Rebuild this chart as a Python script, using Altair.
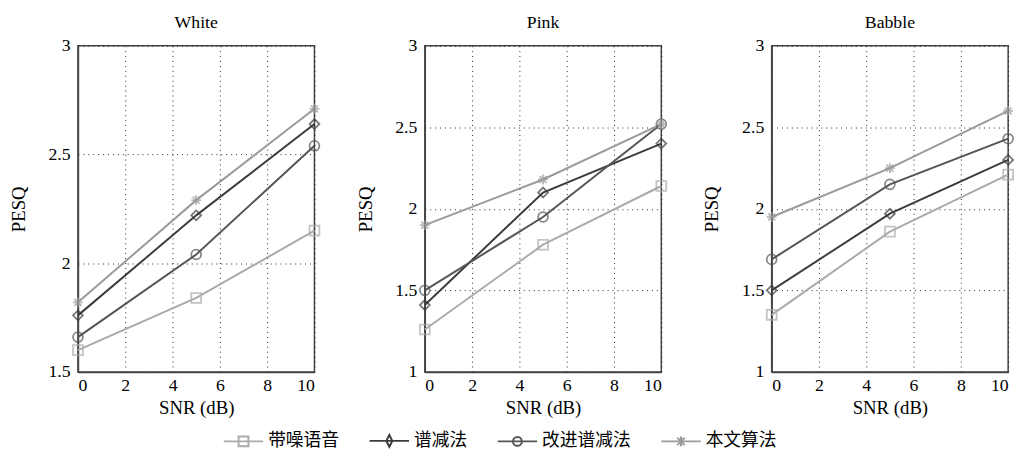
import altair as alt
import pandas as pd

snr = [0, 5, 10]
methods = ["带噪语音", "谱减法", "改进谱减法", "本文算法"]
noises = ["White", "Pink", "Babble"]

white_noisy = [1.60, 1.84, 2.15]
white_ss = [1.76, 2.22, 2.64]
white_iss = [1.66, 2.04, 2.54]
white_ours = [1.82, 2.29, 2.71]

pink_noisy = [1.26, 1.78, 2.14]
pink_ss = [1.41, 2.10, 2.40]
pink_iss = [1.50, 1.95, 2.52]
pink_ours = [1.90, 2.18, 2.52]

babble_noisy = [1.35, 1.86, 2.21]
babble_ss = [1.50, 1.97, 2.30]
babble_iss = [1.69, 2.15, 2.43]
babble_ours = [1.95, 2.25, 2.60]

y_min = {"White": 1.5, "Pink": 1.0, "Babble": 1.0}

series = {
    "White": [white_noisy, white_ss, white_iss, white_ours],
    "Pink": [pink_noisy, pink_ss, pink_iss, pink_ours],
    "Babble": [babble_noisy, babble_ss, babble_iss, babble_ours],
}

rows = []
for noise in noises:
    for m, vals in zip(methods, series[noise]):
        for s, v in zip(snr, vals):
            rows.append({"noise": noise, "method": m, "snr": s, "pesq": v})
df = pd.DataFrame(rows)

colors = ["#aaaaaa", "#3c3c3c", "#555555", "#9a9a9a"]
star = "M-1,0H1M0,-1V1M-0.7,-0.7L0.7,0.7M-0.7,0.7L0.7,-0.7"
shapes = ["square", "diamond", "circle", star]

# legend glyphs: line with marker (drawn wider than the nominal symbol box)
leg_sq = "M-2,0H2M-0.5,-0.5H0.5V0.5H-0.5Z"
leg_di = "M-2,0H2M0,-0.6L0.3,0L0,0.6L-0.3,0Z"
leg_ci = "M-2,0H2M0.45,0A0.45,0.45 0 1,1 -0.45,0A0.45,0.45 0 1,1 0.45,0Z"
leg_st = "M-2,0H2M0,-0.5V0.5M-0.38,-0.38L0.38,0.38M-0.38,0.38L0.38,-0.38"
shape_signal = ("datum.value == '带噪语音' ? '%s' : datum.value == '谱减法' ? '%s' : "
                "datum.value == '改进谱减法' ? '%s' : '%s'") % (leg_sq, leg_di, leg_ci, leg_st)

serif = "'Liberation Serif', 'Times New Roman', 'Noto Sans CJK SC', serif"

color_enc = alt.Color(
    "method:N", sort=methods,
    scale=alt.Scale(domain=methods, range=colors),
    legend=alt.Legend(
        title=None, orient="none", direction="horizontal",
        legendX=157, legendY=390,
        symbolSize=400, symbolStrokeWidth=2,
        symbolFillColor="transparent",
        symbolType=alt.ExprRef(expr=shape_signal)))


def panel(noise):
    lo = y_min[noise]
    yvals = [v / 2 for v in range(int(lo * 2), 7)]
    base = alt.Chart(df[df.noise == noise])
    x = alt.X("snr:Q", title="SNR (dB)",
              scale=alt.Scale(domain=[0, 10], nice=False),
              axis=alt.Axis(values=[0, 2, 4, 6, 8, 10]))
    y = alt.Y("pesq:Q", title="PESQ",
              scale=alt.Scale(domain=[lo, 3], nice=False, zero=False),
              axis=alt.Axis(values=yvals, format="~g"))
    line = base.mark_line(strokeWidth=2).encode(x=x, y=y, color=color_enc,
                                                detail="method:N")
    layers = [line]
    for m, c, s in zip(methods, colors, shapes):
        layers.append(
            base.transform_filter(alt.datum.method == m)
            .mark_point(size=100, strokeWidth=1.8, filled=False, shape=s, color=c)
            .encode(x=x, y=y))
    return alt.layer(*layers).properties(
        width=240, height=331,
        title=alt.TitleParams(noise, font=serif, fontSize=18, fontWeight="normal",
                              color="black", offset=5))


chart = alt.hconcat(*[panel(n) for n in noises]).properties(
    padding={"left": 0, "top": 2, "right": 0, "bottom": 0}
).configure_view(
    stroke="#444444", strokeWidth=1.5
).configure_axis(
    labelFont=serif, titleFont=serif, labelFontSize=18, titleFontSize=19,
    titleFontWeight="normal", labelColor="black", titleColor="black",
    grid=True, gridColor="#222222", gridDash=[1, 4], gridWidth=1,
    domainColor="#444444", domainWidth=1.5, ticks=False, labelPadding=8,
).configure_axisX(titlePadding=4, labelPadding=5).configure_axisY(titlePadding=20).configure_legend(
    labelFont=serif, labelFontSize=18, labelColor="black", columnPadding=27, labelOffset=14
).configure_concat(spacing=31)

chart.save("out.html", embed_options={"renderer": "svg", "actions": False})
